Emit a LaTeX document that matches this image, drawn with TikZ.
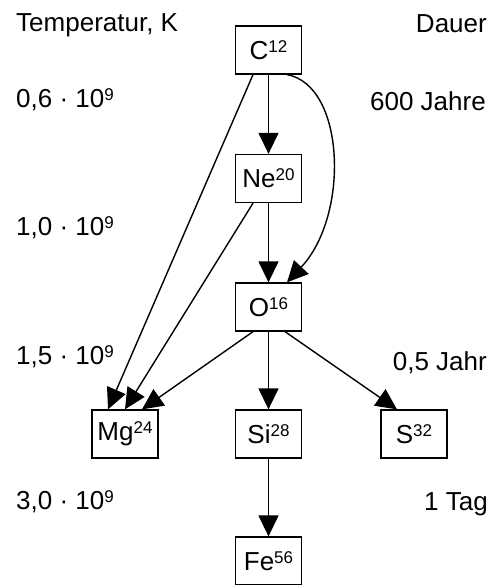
\documentclass[tikz,border=0pt]{standalone}
\usepackage{fontspec}
\setmainfont{Liberation Sans}
\usetikzlibrary{arrows.meta}
% raised mass number / exponent
\newcommand\hoch[1]{\raisebox{7pt}{\fontsize{17}{17}\selectfont #1}}
\begin{document}
\begin{tikzpicture}[x=1pt,y=-1pt,
  font=\fontsize{26}{30}\selectfont,
  isotope/.style={draw, line width=1.3pt, minimum width=66pt, minimum height=48pt, inner sep=0pt},
  flow/.style={line width=1.4pt, -{Triangle[length=21pt,width=20pt]}},
  lbl/.style={inner sep=0pt}]
\useasboundingbox (0,0) rectangle (499,585);

% column headings
\node[lbl, anchor=base west] (temp) at (16,32) {Temperatur, K};
\node[lbl, anchor=base east] (dauer) at (487,33) {Dauer};

% temperatures
\node[lbl, anchor=base west] (t1) at (16,108) {0,6 · 10\hoch{9}};
\node[lbl, anchor=base west] (t2) at (16,235) {1,0 · 10\hoch{9}};
\node[lbl, anchor=base west] (t3) at (16,364) {1,5 · 10\hoch{9}};
\node[lbl, anchor=base west] (t4) at (16,509) {3,0 · 10\hoch{9}};

% durations
\node[lbl, anchor=base east] (d1) at (486,111) {600 Jahre};
\node[lbl, anchor=base east] (d2) at (487,370) {0,5 Jahr};
\node[lbl, anchor=base east] (d3) at (488,510) {1 Tag};

% burning stages
\node[isotope] (C)  at (268.5,50)  {C\hoch{12}};
\node[isotope] (Ne) at (268.5,178.5) {Ne\hoch{20}};
\node[isotope] (O)  at (268.5,307) {O\hoch{16}};
\node[isotope] (Mg) at (125,434)   {Mg\hoch{24}};
\node[isotope] (Si) at (268.5,434) {Si\hoch{28}};
\node[isotope] (S)  at (414,434)   {S\hoch{32}};
\node[isotope] (Fe) at (268.5,561) {Fe\hoch{56}};

% reactions
\draw[flow] (C) -- (Ne);
\draw[flow] (Ne) -- (O);
\draw[flow] (O) -- (Si);
\draw[flow] (Si) -- (Fe);
\draw[flow] ([xshift=-15.5pt]C.south) -- ([xshift=-17pt]Mg.north);
\draw[flow] ([xshift=-15.5pt]Ne.south) -- (Mg.north);
\draw[flow] ([xshift=-15.5pt]O.south) -- ([xshift=17pt]Mg.north);
\draw[flow] ([xshift=16.5pt]O.south) -- ([xshift=-17pt]S.north);
\draw[flow] ([xshift=18.5pt]C.south) .. controls (345,85) and (350,215) .. ([xshift=18.5pt]O.north);
\end{tikzpicture}
\end{document}
